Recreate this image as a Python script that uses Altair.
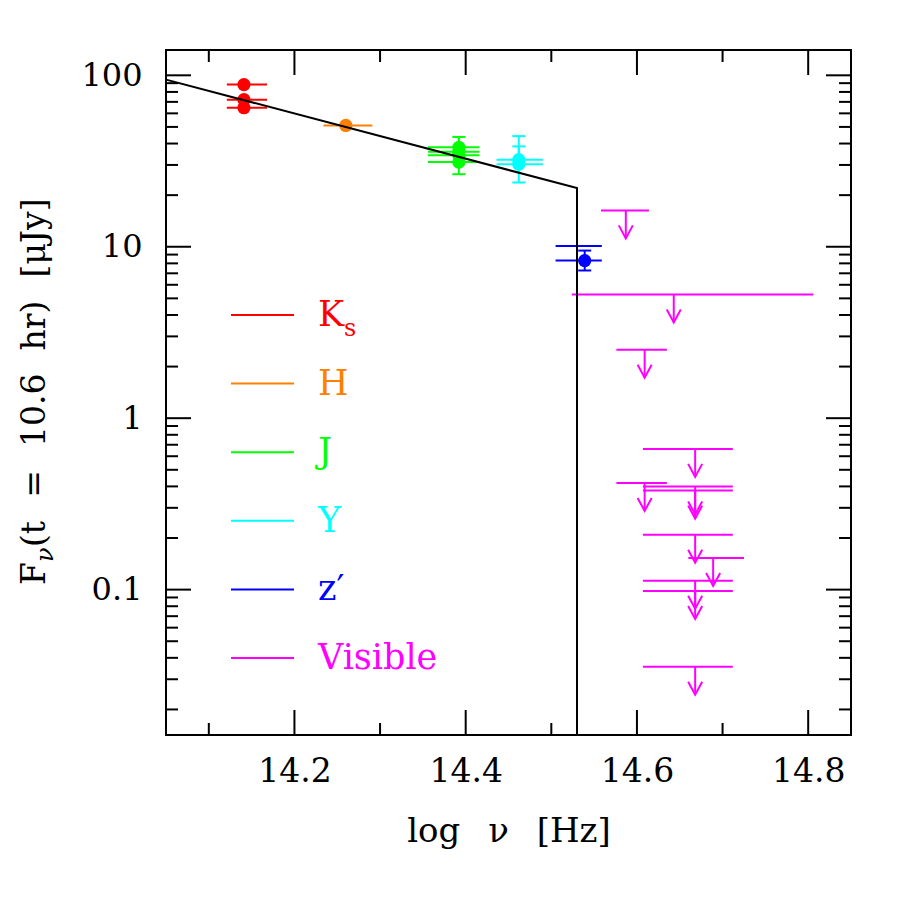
import altair as alt
import pandas as pd

# ---------------- data ----------------
bands = ["Ks", "H", "J", "Y", "z'", "Visible"]
band_colors = ["#ff0000", "#ff8000", "#00ff00", "#00ffff", "#0000ff", "#ff00ff"]
legend_text = ["K", "H", "J", "Y", "z\u2032", "Visible"]
legend_sub = ["s", "", "", "", "", ""]

# detections (log nu, flux in microJy)
det_band = ["Ks", "Ks", "Ks", "H", "J", "J", "J", "J", "Y", "Y", "z'", "z'"]
det_x = [14.141, 14.141, 14.141, 14.260, 14.392, 14.392, 14.392, 14.392, 14.462, 14.462, 14.539, 14.539]
det_xlo = [14.121, 14.121, 14.121, 14.234, 14.356, 14.356, 14.356, 14.356, 14.436, 14.436, 14.505, 14.505]
det_xhi = [14.168, 14.168, 14.168, 14.291, 14.416, 14.416, 14.416, 14.416, 14.490, 14.490, 14.559, 14.559]
det_f = [88.3, 72.1, 64.7, 51.0, 38.0, 35.8, 34.2, 31.2, 32.2, 30.3, 10.1, 8.3]
det_flo = [88.3, 72.1, 64.7, 51.0, 38.0, 35.8, 34.2, 26.5, 32.2, 23.7, 10.1, 7.27]
det_fhi = [88.3, 72.1, 64.7, 51.0, 43.7, 35.8, 34.2, 31.2, 44.2, 38.5, 10.1, 9.5]
det_marker = [1, 1, 1, 1, 1, 1, 1, 1, 1, 1, 0, 1]

# visible upper limits
lim_x = [14.587, 14.643, 14.609, 14.668, 14.609, 14.668, 14.668, 14.668, 14.689, 14.668, 14.668, 14.668]
lim_xlo = [14.558, 14.524, 14.576, 14.607, 14.576, 14.607, 14.607, 14.607, 14.660, 14.607, 14.607, 14.607]
lim_xhi = [14.614, 14.806, 14.635, 14.712, 14.635, 14.712, 14.712, 14.712, 14.725, 14.712, 14.712, 14.712]
lim_f = [16.3, 5.27, 2.51, 0.662, 0.419, 0.400, 0.378, 0.209, 0.153, 0.1127, 0.0982, 0.0355]

# model spectrum (power law with cutoff)
model_x = [14.05, 14.53, 14.53]
model_f = [94.4, 22.0, 0.01419]

# axis ticks
x_major = [14.2, 14.4, 14.6, 14.8]
x_minor = [14.1, 14.3, 14.5, 14.7]
y_major = [0.1, 1, 10, 100]
y_minor = [0.02, 0.03, 0.04, 0.05, 0.06, 0.07, 0.08, 0.09,
           0.2, 0.3, 0.4, 0.5, 0.6, 0.7, 0.8, 0.9,
           2, 3, 4, 5, 6, 7, 8, 9,
           20, 30, 40, 50, 60, 70, 80, 90]

X_DOMAIN = [14.05, 14.85]
Y_DOMAIN = [0.01419, 140.5]

# ---------------- chart ----------------
W, H = 685, 685
MAJ, MIN = 25, 12
FONT = "DejaVu Serif"
LW = 2

xs = alt.Scale(domain=X_DOMAIN, nice=False, zero=False)
ys = alt.Scale(type="log", domain=Y_DOMAIN, nice=False)
xaxis = alt.Axis(values=x_major, ticks=False, domain=False, grid=False,
                 labelFont=FONT, labelFontSize=33, labelColor="black", labelPadding=20,
                 labelFlush=False, format=".1f",
                 title="log \u2002\u03bd \u2002[Hz]", titleFont=FONT, titleFontSize=34,
                 titleFontWeight="normal", titleColor="black", titlePadding=26)
yaxis = alt.Axis(values=y_major, ticks=False, domain=False, grid=False,
                 labelFont=FONT, labelFontSize=32, labelColor="black", labelPadding=24,
                 labelFlush=False, format="~g", title=None)

color = alt.Color("band:N", scale=alt.Scale(domain=bands, range=band_colors), legend=None)

det = pd.DataFrame({"band": det_band, "x": det_x, "xlo": det_xlo, "xhi": det_xhi,
                    "f": det_f, "flo": det_flo, "fhi": det_fhi, "marker": det_marker})
lim = pd.DataFrame({"x": lim_x, "xlo": lim_xlo, "xhi": lim_xhi, "f": lim_f})
model = pd.DataFrame({"x": model_x, "f": model_f, "i": list(range(len(model_x)))})
leg = pd.DataFrame({"band": bands, "label": legend_text, "sub": legend_sub,
                    "i": list(range(len(bands)))})

base_det = alt.Chart(det)

hbars = base_det.mark_rule(strokeWidth=LW).encode(
    x=alt.X("xlo:Q", scale=xs, axis=xaxis), x2="xhi:Q",
    y=alt.Y("f:Q", scale=ys, axis=yaxis), color=color)

vbars = base_det.transform_filter("datum.flo < datum.fhi").mark_rule(strokeWidth=LW).encode(
    x=alt.X("x:Q", scale=xs, axis=xaxis),
    y=alt.Y("flo:Q", scale=ys, axis=yaxis), y2="fhi:Q", color=color)

cap_lo = base_det.transform_filter("datum.flo < datum.f").mark_rule(
    strokeWidth=LW, xOffset=-6.5, x2Offset=6.5).encode(
    x=alt.X("x:Q", scale=xs, axis=xaxis), x2="x:Q",
    y=alt.Y("flo:Q", scale=ys, axis=yaxis), color=color)

cap_hi = base_det.transform_filter("datum.fhi > datum.f").mark_rule(
    strokeWidth=LW, xOffset=-6.5, x2Offset=6.5).encode(
    x=alt.X("x:Q", scale=xs, axis=xaxis), x2="x:Q",
    y=alt.Y("fhi:Q", scale=ys, axis=yaxis), color=color)

dots = base_det.transform_filter("datum.marker == 1").mark_circle(size=175, opacity=1).encode(
    x=alt.X("x:Q", scale=xs, axis=xaxis),
    y=alt.Y("f:Q", scale=ys, axis=yaxis), color=color)

MAG = "#ff00ff"
base_lim = alt.Chart(lim)
lim_bars = base_lim.mark_rule(strokeWidth=LW, color=MAG).encode(
    x=alt.X("xlo:Q", scale=xs, axis=xaxis), x2="xhi:Q",
    y=alt.Y("f:Q", scale=ys, axis=yaxis))
lim_shaft = base_lim.mark_rule(strokeWidth=LW, color=MAG, y2Offset=28).encode(
    x=alt.X("x:Q", scale=xs, axis=xaxis),
    y=alt.Y("f:Q", scale=ys, axis=yaxis), y2="f:Q")
lim_head = base_lim.mark_point(shape="M-0.54,-1L0,0L0.54,-1", size=676, filled=False,
                               strokeWidth=LW, color=MAG, opacity=1, yOffset=28).encode(
    x=alt.X("x:Q", scale=xs, axis=xaxis),
    y=alt.Y("f:Q", scale=ys, axis=yaxis))

model_line = alt.Chart(model).mark_line(color="black", strokeWidth=LW).encode(
    x=alt.X("x:Q", scale=xs, axis=xaxis),
    y=alt.Y("f:Q", scale=ys, axis=yaxis), order="i:Q")


def xticks(vals, length):
    d = alt.Chart(pd.DataFrame({"v": vals}))
    bottom = d.mark_rule(color="black", strokeWidth=LW).encode(
        x=alt.X("v:Q", scale=xs, axis=xaxis), y=alt.value(H), y2=alt.value(H - length))
    top = d.mark_rule(color="black", strokeWidth=LW).encode(
        x=alt.X("v:Q", scale=xs, axis=xaxis), y=alt.value(0), y2=alt.value(length))
    return [bottom, top]


def yticks(vals, length):
    d = alt.Chart(pd.DataFrame({"v": vals}))
    left = d.mark_rule(color="black", strokeWidth=LW).encode(
        y=alt.Y("v:Q", scale=ys, axis=yaxis), x=alt.value(0), x2=alt.value(length))
    right = d.mark_rule(color="black", strokeWidth=LW).encode(
        y=alt.Y("v:Q", scale=ys, axis=yaxis), x=alt.value(W), x2=alt.value(W - length))
    return [left, right]


ticks = xticks(x_major, MAJ) + xticks(x_minor, MIN) + yticks(y_major, MAJ) + yticks(y_minor, MIN)

# plot frame
frame = alt.Chart(pd.DataFrame({"k": [0]})).mark_rect(
    fill=None, fillOpacity=0, stroke="black", strokeWidth=LW).encode(
    x=alt.value(0), x2=alt.value(W), y=alt.value(0), y2=alt.value(H))

# legend drawn inside the plot
leg_base = alt.Chart(leg).transform_calculate(ly="265 + 68.6 * datum.i")
leg_lines = leg_base.mark_rule(strokeWidth=LW).encode(
    x=alt.value(65), x2=alt.value(128),
    y=alt.Y("ly:Q", scale=None, axis=None), color=color)
leg_text = leg_base.mark_text(font=FONT, fontSize=35, align="left", baseline="middle").encode(
    x=alt.value(152), y=alt.Y("ly:Q", scale=None, axis=None), text="label:N", color=color)
leg_sub = leg_base.transform_filter("datum.sub != ''").transform_calculate(
    sy="265 + 68.6 * datum.i + 14").mark_text(
    font=FONT, fontSize=24, align="left", baseline="middle").encode(
    x=alt.value(178), y=alt.Y("sy:Q", scale=None, axis=None), text="sub:N", color=color)

# y-axis title with subscript nu
yt_F = alt.Chart(pd.DataFrame({"t": ["F"]})).mark_text(
    font=FONT, fontSize=33, angle=270, align="left", baseline="alphabetic", color="black").encode(
    x=alt.value(-121), y=alt.value(535), text="t:N")
yt_nu = alt.Chart(pd.DataFrame({"t": ["\u03bd"]})).mark_text(
    font=FONT, fontSize=24, fontStyle="italic", angle=270, align="left",
    baseline="alphabetic", color="black").encode(
    x=alt.value(-113), y=alt.value(512), text="t:N")
yt_rest = alt.Chart(pd.DataFrame({"t": ["(t\u2002\u2009=\u2002\u200910.6\u2002\u2009hr)\u2002\u2009[\u03bcJy]"]})).mark_text(
    font=FONT, fontSize=33, angle=270, align="left", baseline="alphabetic", color="black").encode(
    x=alt.value(-121), y=alt.value(497), text="t:N")

chart = alt.layer(
    hbars, vbars, cap_lo, cap_hi, dots,
    lim_bars, lim_shaft, lim_head,
    model_line,
    *ticks,
    frame,
    leg_lines, leg_text, leg_sub,
    yt_F, yt_nu, yt_rest,
).properties(
    width=W, height=H,
    autosize=alt.AutoSizeParams(type="none"),
    padding={"left": 158, "top": 42, "right": 40, "bottom": 130},
).configure_view(
    stroke="black", strokeWidth=LW
).configure(background="white")

chart.save("out.html", embed_options={"renderer": "svg", "actions": False})
